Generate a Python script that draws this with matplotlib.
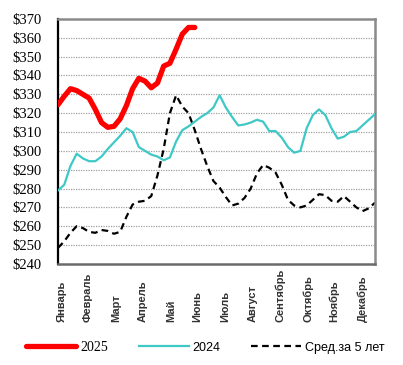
import matplotlib.pyplot as plt
import matplotlib.transforms as mtransforms
import numpy as np

# weekly prices, $
price_2025 = [324.5, 329, 333, 332, 330, 328, 322, 315, 312.5, 313, 317, 324,
              333, 338.5, 337, 333.5, 336, 345, 346.5, 354, 362, 365.5, 365.5]
price_2024 = [279, 282, 292, 298.5, 296, 294.5, 294.5, 297, 301, 304.5, 308, 312,
              310, 302, 300, 298, 297, 295, 296.5, 305, 311, 313, 315.5, 318,
              320, 323, 329.5, 323, 318, 313.5, 314, 315, 316.5, 315.5, 310.5, 310.5,
              307, 302, 299, 300, 312, 319, 322, 319, 312, 306.5, 307.5, 310,
              310.5, 313.5, 316.5, 319.5]
avg_5y = [248.5, 252, 256.5, 260, 259, 257, 256.5, 258, 257.5, 256, 257, 265,
          271.5, 273, 273.5, 276, 287, 301, 320, 329.5, 323.5, 320, 311, 301,
          292, 284, 280.5, 275.5, 271, 272, 275, 280, 288, 292.5, 291, 288.5,
          282, 274, 271, 270, 271, 274, 277, 276.5, 273.5, 273, 276, 273,
          270, 268, 269.5, 272.5]

months = ['Январь', 'Февраль', 'Март', 'Апрель', 'Май', 'Июнь', 'Июль',
          'Август', 'Сентябрь', 'Октябрь', 'Ноябрь', 'Декабрь']
month_pos = [0.6, 4.8, 9.3, 13.7, 18.2, 22.4, 26.9, 31.3, 35.8, 40.2, 44.4, 49.0]
yticks = np.arange(240, 371, 10)

fig = plt.figure(figsize=(4.03, 3.65), dpi=100)
ax = fig.add_axes([0.144, 0.277, 0.7865, 0.671])

for y in yticks[1:-1]:
    ax.axhline(y, color='#a0a0a0', lw=0.9, ls=(0, (1, 1)), zorder=1)

ax.plot(np.arange(len(avg_5y)), avg_5y, color='black', lw=1.6,
        ls=(0, (3, 2)), zorder=2, label='Сред.за 5 лет')
ax.plot(np.arange(len(price_2024)), price_2024, color='#3ec8c6', lw=1.6,
        zorder=3, label='2024')
ax.plot(np.arange(len(price_2025)), price_2025, color='#ff0000', lw=3.8,
        solid_capstyle='round', solid_joinstyle='round', zorder=4, label='2025')

ax.set_xlim(0, 51)
ax.set_ylim(240, 370)
ax.set_yticks(yticks)
ax.set_yticklabels(['$%d' % v for v in yticks], family='Liberation Serif',
                   fontsize=10.5)
ax.tick_params(axis='y', length=0, pad=12)
ax.set_xticks([])

for side in ['top', 'right']:
    ax.spines[side].set_color('#8a8a8a')
    ax.spines[side].set_linewidth(1.8)
ax.spines['left'].set_color('black')
ax.spines['left'].set_linewidth(1.6)
ax.spines['bottom'].set_color('#6a6a6a')
ax.spines['bottom'].set_linewidth(1.8)

trans = mtransforms.blended_transform_factory(ax.transData, ax.transAxes)
for pos, name in zip(month_pos, months):
    ax.text(pos, -0.237, name, rotation=90, ha='center', va='bottom',
            transform=trans, family='Liberation Sans', fontsize=8,
            fontweight='bold', color='#333333')

handles, labels = ax.get_legend_handles_labels()
order = [2, 1, 0]
leg = fig.legend([handles[i] for i in order], [labels[i] for i in order],
                 loc='center', bbox_to_anchor=(0.51, 0.049), ncol=3,
                 frameon=False, handlelength=3.6, handletextpad=0.3,
                 columnspacing=2.2, fontsize=10)
leg.get_texts()[0].set_family('Liberation Serif')
leg.get_texts()[1].set_family('Liberation Sans')
leg.get_texts()[1].set_fontsize(9)
leg.get_texts()[2].set_family('Liberation Sans')
leg.get_texts()[2].set_fontsize(9)

fig.savefig('out.png', dpi=100)
